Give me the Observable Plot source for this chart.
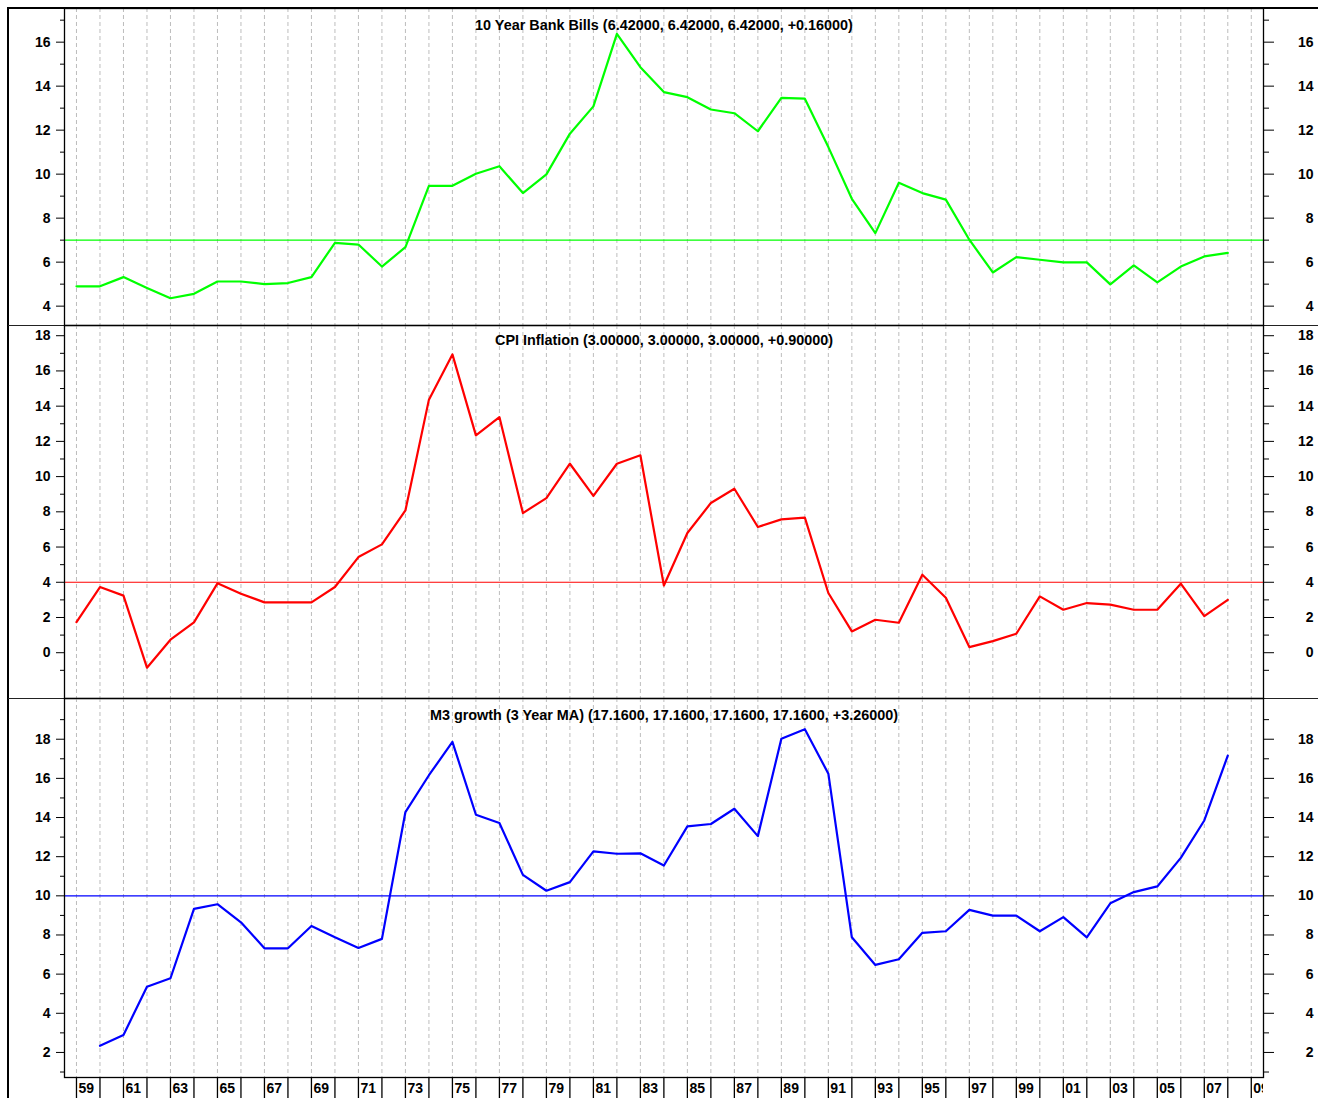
<!DOCTYPE html>
<html><head><meta charset="utf-8">
<script src="https://cdn.jsdelivr.net/npm/d3@7"></script>
<script src="https://cdn.jsdelivr.net/npm/@observablehq/plot@0.6"></script>
<style>
html,body{margin:0;padding:0;background:#fff;}
body{width:1320px;height:1098px;overflow:hidden;position:relative;}
.bar{position:absolute;background:#000;}
svg{position:absolute;left:0;}
</style></head><body>
<div class="bar" style="left:7px;top:7px;width:1311px;height:2px"></div>
<div class="bar" style="left:7px;top:7px;width:2px;height:1091px"></div>
<div class="bar" style="left:8px;top:325px;width:1310px;height:1px;background:#222"></div>
<div class="bar" style="left:8px;top:698px;width:1310px;height:1px;background:#222"></div>
<script>
// ---- data ----
const years = [1959,1960,1961,1962,1963,1964,1965,1966,1967,1968,1969,1970,1971,1972,1973,1974,1975,1976,1977,1978,1979,1980,1981,1982,1983,1984,1985,1986,1987,1988,1989,1990,1991,1992,1993,1994,1995,1996,1997,1998,1999,2000,2001,2002,2003,2004,2005,2006,2007,2008];
const gridYears = [1959,1960,1961,1962,1963,1964,1965,1966,1967,1968,1969,1970,1971,1972,1973,1974,1975,1976,1977,1978,1979,1980,1981,1982,1983,1984,1985,1986,1987,1988,1989,1990,1991,1992,1993,1994,1995,1996,1997,1998,1999,2000,2001,2002,2003,2004,2005,2006,2007,2008,2009];
const bankBills = [4.9,4.9,5.32,4.83,4.36,4.56,5.12,5.12,5.0,5.05,
  5.32,6.88,6.8,5.8,6.68,9.47,9.47,10.02,10.36,9.14,
  9.99,11.84,13.08,16.38,14.86,13.73,13.5,12.94,12.77,11.95,
  13.47,13.43,11.23,8.88,7.32,9.61,9.14,8.84,7.02,5.53,
  6.23,6.11,5.99,5.99,4.99,5.85,5.08,5.8,6.26,6.42];
const cpiInflation = [1.74,3.73,3.24,-0.85,0.74,1.72,3.94,3.35,2.86,2.86,
  2.86,3.73,5.43,6.15,8.08,14.37,16.94,12.34,13.38,7.93,
  8.78,10.73,8.9,10.73,11.21,3.82,6.8,8.5,9.31,7.14,
  7.57,7.67,3.39,1.21,1.87,1.70,4.43,3.12,0.32,0.66,
  1.08,3.2,2.44,2.82,2.73,2.44,2.44,3.92,2.08,3.0];
const m3Growth = [null,2.34,2.89,5.36,5.79,9.33,9.57,8.65,7.32,7.32,
  8.46,7.88,7.34,7.8,14.28,16.16,17.86,14.14,13.72,11.07,
  10.26,10.7,12.27,12.15,12.17,11.55,13.55,13.67,14.45,13.05,
  18.02,18.51,16.24,7.88,6.47,6.76,8.11,8.19,9.28,8.99,
  8.99,8.19,8.91,7.88,9.62,10.19,10.48,11.94,13.85,17.16];
const refBills = 7, refCpi = 4, refM3 = 10;
const titles = ["10 Year Bank Bills (6.42000, 6.42000, 6.42000, +0.16000)",
  "CPI Inflation (3.00000, 3.00000, 3.00000, +0.90000)",
  "M3 growth (3 Year MA) (17.1600, 17.1600, 17.1600, 17.1600, +3.26000)"];
const ticks1 = [4,6,8,10,12,14,16], minor1 = [5,7,9,11,13,15,17];
const ticks2 = [0,2,4,6,8,10,12,14,16,18], minor2 = [-1,1,3,5,7,9,11,13,15,17];
const ticks3 = [2,4,6,8,10,12,14,16,18], minor3 = [1,3,5,7,9,11,13,15,17,19];
const labelYears = [1959,1961,1963,1965,1967,1969,1971,1973,1975,1977,1979,1981,1983,1985,1987,1989,1991,1993,1995,1997,1999,2001,2003,2005,2007,2009];
const labelTexts = ["59","61","63","65","67","69","71","73","75","77","79","81","83","85","87","89","91","93","95","97","99","01","03","05","07","09"];

// ---- layout ----
const xDomain = [1958.49, 2009.52];
const fontCss = 'font-family:"Liberation Sans",Arial,sans-serif;font-weight:bold;font-size:14px;color:#000;';

function panel(cfg){
  const rows = years.map((y,i)=>({year:y, v:cfg.values[i]}));
  const svg = Plot.plot({
    width:1320, height:cfg.height,
    marginLeft:64, marginRight:57, marginTop:0, marginBottom:0,
    style: fontCss + "overflow:visible;background:transparent;",
    x:{domain:xDomain, axis:null},
    y:{domain:cfg.domain},
    marks:[
      Plot.ruleX(gridYears,{x:d=>d, stroke:"#bdbdbd", strokeDasharray:"4,3", strokeWidth:1}),
      Plot.ruleY([cfg.ref],{y:d=>d, stroke:cfg.color, strokeWidth:1.2}),
      Plot.lineY(rows,{x:"year", y:"v", stroke:cfg.color, strokeWidth:2.2}),
      Plot.axisY(cfg.ticks,{anchor:"left", tickSize:8, tickPadding:6, label:null, fontSize:14, fontWeight:"bold"}),
      Plot.axisY(cfg.minor,{anchor:"left", tickSize:4, tickFormat:()=>"", label:null}),
      Plot.axisY(cfg.ticks,{anchor:"right", tickSize:10, tickPadding:40, textAnchor:"end", label:null, fontSize:14, fontWeight:"bold"}),
      Plot.axisY(cfg.minor,{anchor:"right", tickSize:5, tickFormat:()=>"", label:null}),
      Plot.frame({stroke:"#000", strokeWidth:1.3}),
      Plot.text([cfg.title],{text:d=>d, frameAnchor:"top", dy:cfg.titleDy, lineAnchor:"middle", fill:"#000", fontSize:14.4, fontWeight:"bold"})
    ]
  });
  svg.style.top = cfg.top + "px";
  document.body.appendChild(svg);
}

panel({values:bankBills, color:"#00ff00", ref:refBills, domain:[3.12,17.53], height:317, top:8, title:titles[0], titleDy:17, ticks:ticks1, minor:minor1});
panel({values:cpiInflation, color:"#ff0000", ref:refCpi, domain:[-2.6,18.58], height:373, top:325, title:titles[1], titleDy:15, ticks:ticks2, minor:minor2});
panel({values:m3Growth, color:"#0000ff", ref:refM3, domain:[0.72,20.08], height:379, top:698, title:titles[2], titleDy:17, ticks:ticks3, minor:minor3});

const bottom = Plot.plot({
  width:1263, height:21, marginLeft:64, marginRight:0, marginTop:0, marginBottom:0,
  style: fontCss + "overflow:hidden;background:transparent;",
  x:{domain:xDomain, axis:null},
  marks:[
    Plot.ruleX(gridYears,{x:d=>d, stroke:"#000", strokeWidth:1.3}),
    Plot.text(labelYears,{x:d=>d, text:(d,i)=>labelTexts[i], frameAnchor:"middle", textAnchor:"start", lineAnchor:"middle", dx:2, dy:0.5, fill:"#000", fontSize:14, fontWeight:"bold"})
  ]
});
bottom.style.top = "1077px";
document.body.appendChild(bottom);
</script>
</body></html>
